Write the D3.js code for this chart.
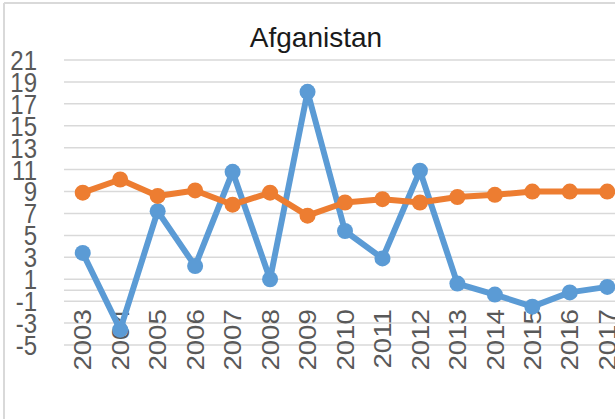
<!DOCTYPE html>
<html>
<head>
    <title>Afganistan</title>
    <script src="https://cdn.jsdelivr.net/npm/d3@7"></script>
    <style>
        body { margin: 0; background: #fff; }
        svg { display: block; font-family: "Liberation Sans", Arial, sans-serif; }
    </style>
</head>
<body>
<div id="chart"></div>
<script>
    // Chart values
    var years = ['2003', '2004', '2005', '2006', '2007', '2008', '2009', '2010',
                 '2011', '2012', '2013', '2014', '2015', '2016', '2017'];
    var blueSeries = [3.4, -3.6, 7.2, 2.2, 10.8, 1.0, 18.1, 5.4, 2.9, 10.9, 0.6, -0.4, -1.5, -0.2, 0.3];
    var orangeSeries = [8.9, 10.1, 8.6, 9.1, 7.8, 8.9, 6.8, 8.0, 8.3, 8.0, 8.5, 8.7, 9.0, 9.0, 9.0];
    var yTicks = [21, 19, 17, 15, 13, 11, 9, 7, 5, 3, 1, -1, -3, -5];

    var width = 615, height = 419;

    var svg = d3.select('#chart').append('svg')
        .attr('width', width)
        .attr('height', height);

    // outer frame (only left and top edges are inside the crop)
    svg.append('line').attr('x1', 4).attr('x2', 4).attr('y1', 3).attr('y2', height)
        .attr('stroke', '#d9d9d9').attr('stroke-width', 2);
    svg.append('line').attr('x1', 4).attr('x2', width).attr('y1', 3).attr('y2', 3)
        .attr('stroke', '#d9d9d9').attr('stroke-width', 2);

    var x = d3.scaleBand().domain(years).range([64, 626]);
    var y = d3.scaleLinear().domain([-5, 21]).range([345, 60]);

    // gridlines
    svg.append('g').selectAll('line')
        .data(yTicks)
        .enter().append('line')
        .attr('x1', 64).attr('x2', width)
        .attr('y1', function(d) { return y(d); })
        .attr('y2', function(d) { return y(d); })
        .attr('stroke', '#d9d9d9').attr('stroke-width', 1.5);

    // horizontal axis sits at zero
    svg.append('line')
        .attr('x1', 64).attr('x2', width)
        .attr('y1', y(0)).attr('y2', y(0))
        .attr('stroke', '#d9d9d9').attr('stroke-width', 1.5);

    // y labels
    svg.append('g').selectAll('text')
        .data(yTicks)
        .enter().append('text')
        .attr('transform', function(d) { return 'translate(37,' + y(d) + ') scale(1,1.15)'; })
        .attr('text-anchor', 'end')
        .attr('dy', '0.36em')
        .attr('font-size', 24)
        .attr('fill', '#595959')
        .text(function(d) { return d; });

    // x labels, rotated, hanging below the zero axis
    svg.append('g').selectAll('text')
        .data(years)
        .enter().append('text')
        .attr('transform', function(d) {
            return 'translate(' + (x(d) + x.bandwidth() / 2) + ',' + (y(0) + 19) + ') rotate(-90) scale(1.15,1)';
        })
        .attr('text-anchor', 'end')
        .attr('dy', '0.36em')
        .attr('font-size', 24)
        .attr('fill', '#595959')
        .text(function(d) { return d; });

    var line = d3.line()
        .x(function(d, i) { return x(years[i]) + x.bandwidth() / 2; })
        .y(function(d) { return y(d); });

    function drawSeries(values, color) {
        var g = svg.append('g');
        g.append('path')
            .datum(values)
            .attr('d', line)
            .attr('fill', 'none')
            .attr('stroke', color)
            .attr('stroke-width', 6)
            .attr('stroke-linejoin', 'round');
        g.selectAll('circle')
            .data(values)
            .enter().append('circle')
            .attr('cx', function(d, i) { return x(years[i]) + x.bandwidth() / 2; })
            .attr('cy', function(d) { return y(d); })
            .attr('r', 8)
            .attr('fill', color);
    }

    drawSeries(blueSeries, '#5b9bd5');
    drawSeries(orangeSeries, '#ed7d31');

    // title
    svg.append('text')
        .attr('x', 316).attr('y', 47)
        .attr('text-anchor', 'middle')
        .attr('font-size', 28)
        .attr('fill', '#1a1a1a')
        .text('Afganistan');
</script>
</body>
</html>
